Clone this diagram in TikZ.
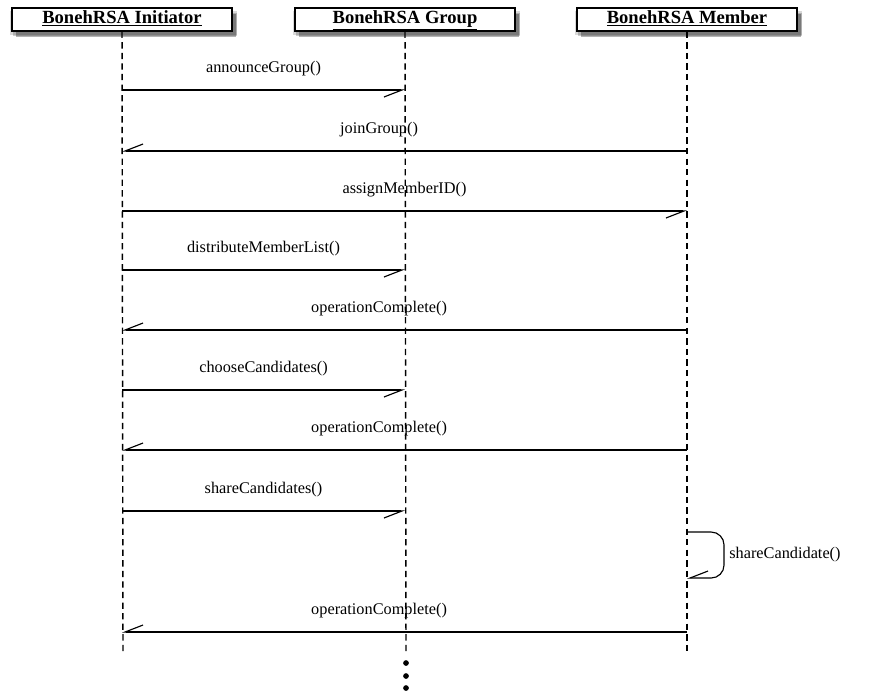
\documentclass[tikz,border=0pt]{standalone}
\usepackage{fontspec}
\setmainfont{Liberation Serif}
\usetikzlibrary{arrows.meta,shadows}

\begin{document}
\begin{tikzpicture}[
  x=0.7pt, y=-0.7pt,
  font=\fontsize{11.4}{14}\selectfont,
  head/.style={draw,line width=1pt,fill=white,minimum width=154pt,minimum height=16pt,inner sep=0pt,
    text height=9.5pt,text depth=4pt,font=\fontsize{13}{15}\selectfont,
    drop shadow={shadow xshift=1pt,shadow yshift=-2.5pt,shadow scale=1.03,fill=black,opacity=0.15},
    drop shadow={shadow xshift=2pt,shadow yshift=-3.5pt,shadow scale=1.02,fill=black,opacity=0.2},
    drop shadow={shadow xshift=2.5pt,shadow yshift=-4pt,fill=black,opacity=0.3}},
  lifeline/.style={dash pattern=on 4.4pt off 3pt,line width=1pt},
  msg/.style={line width=0.8pt,-{Straight Barb[right,length=12.6pt,width=9.8pt]}},
  lbl/.style={above=6pt},
  dot/.style={circle,fill=black,inner sep=0pt,minimum size=4pt}
]
\useasboundingbox (0,0) rectangle (870,693);

\node[head] (init) at (122,19.5) {\underline{\textbf{BonehRSA Initiator}}};
\node[head] (grp) at (405,19.5) {\underline{\textbf{BonehRSA Group}}};
\node[head] (mem) at (687,19.5) {\underline{\textbf{BonehRSA Member}}};

\coordinate (init-end) at (123,655);
\coordinate (grp-end) at (406,655);
\coordinate (mem-end) at (687,655);

\draw[lifeline] (init) -- (init-end);
\draw[lifeline] (grp) -- (grp-end);
\draw[lifeline] (mem) -- (mem-end);

\draw[msg] (init |- 0,90) -- node[lbl]{announceGroup()} (grp |- 0,90);
\draw[msg] (mem |- 0,151) -- node[lbl,pos=0.545]{joinGroup()} (init |- 0,151);
\draw[msg] (init |- 0,211) -- node[lbl]{assignMemberID()} (mem |- 0,211);
\draw[msg] (init |- 0,270) -- node[lbl]{distributeMemberList()} (grp |- 0,270);
\draw[msg] (mem |- 0,330) -- node[lbl,pos=0.545]{operationComplete()} (init |- 0,330);
\draw[msg] (init |- 0,390) -- node[lbl]{chooseCandidates()} (grp |- 0,390);
\draw[msg] (mem |- 0,450) -- node[lbl,pos=0.545]{operationComplete()} (init |- 0,450);
\draw[msg] (init |- 0,511) -- node[lbl]{shareCandidates()} (grp |- 0,511);
\draw[msg,rounded corners=9pt] (mem |- 0,532) -- (724,532) -- node[right]{shareCandidate()} (724,578) -- (mem |- 0,578);
\draw[msg] (mem |- 0,632) -- node[lbl,pos=0.545]{operationComplete()} (init |- 0,632);

\node[dot] (d1) at (406,663) {};
\node[dot] (d2) at (406,676) {};
\node[dot] (d3) at (406,688) {};
\end{tikzpicture}
\end{document}
